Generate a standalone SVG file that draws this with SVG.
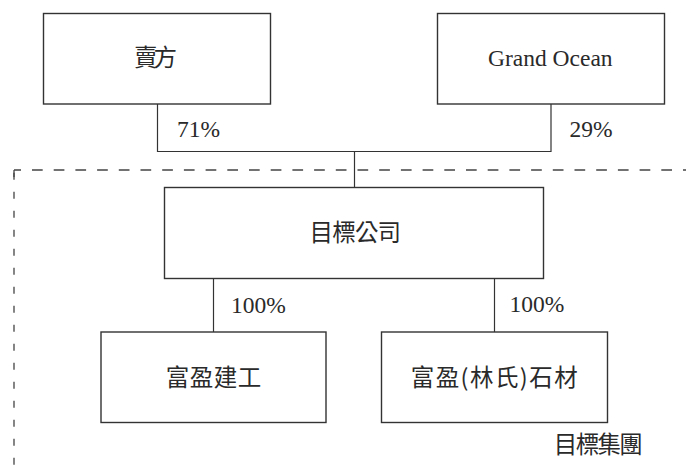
<svg xmlns="http://www.w3.org/2000/svg" width="686" height="467" viewBox="0 0 686 467">
<style>
.box{fill:#fff;stroke:#333;stroke-width:1.4}
.ln{fill:none;stroke:#333;stroke-width:1.2}
.dash{fill:none;stroke:#444;stroke-width:1.3}
.cjk{font-family:"Noto Sans CJK TC","Noto Sans CJK SC",sans-serif;font-size:23.5px;fill:#2a2a2a;text-anchor:middle}
.lat{font-family:"Liberation Serif","Times New Roman",serif;font-size:23.5px;fill:#2a2a2a}
</style>
<rect width="686" height="467" fill="#fff"/>
<g id="group-boundary">
<path class="dash" d="M14,170 H686" stroke-dasharray="10.7 11" stroke-dashoffset="3.7"/>
<path class="dash" d="M14,170 V467" stroke-dasharray="7 12" stroke-dashoffset="16.3"/>
<path class="dash" d="M14,170 V177"/>
</g>
<g id="connectors">
<path class="ln" d="M157.5,104 V151.5 H551 V104"/>
<path class="ln" d="M354.5,151.5 V187.5"/>
<path class="ln" d="M213.5,278.5 V332"/>
<path class="ln" d="M494.5,278.5 V332"/>
<text class="lat" x="177" y="137">71%</text>
<text class="lat" x="569.5" y="136.5">29%</text>
<text class="lat" x="231" y="312.5">100%</text>
<text class="lat" x="509.5" y="312">100%</text>
</g>
<g id="seller">
<rect class="box" x="43.5" y="13.5" width="227" height="90.5"/>
<text class="cjk" x="155.5" y="66.4" textLength="43" lengthAdjust="spacing">賣方</text>
</g>
<g id="grand-ocean">
<rect class="box" x="437.5" y="13.5" width="227" height="90.5"/>
<text class="lat" x="550.3" y="66" text-anchor="middle">Grand Ocean</text>
</g>
<g id="target-company">
<rect class="box" x="164.5" y="187.5" width="379" height="91"/>
<text class="cjk" x="355.3" y="241.2" textLength="91.5" lengthAdjust="spacing">目標公司</text>
</g>
<g id="fuying-construction">
<rect class="box" x="101" y="332" width="225" height="90.5"/>
<text class="cjk" x="213.5" y="385.6" textLength="95.5" lengthAdjust="spacing">富盈建工</text>
</g>
<g id="fuying-stone">
<rect class="box" x="381.5" y="332" width="226" height="90.5"/>
<text class="cjk" x="494.2" y="385.6" textLength="167" lengthAdjust="spacing">富盈(林氏)石材</text>
</g>
<g id="target-group-label">
<text class="cjk" x="598.3" y="452.9" textLength="89" lengthAdjust="spacing">目標集團</text>
</g>
</svg>
